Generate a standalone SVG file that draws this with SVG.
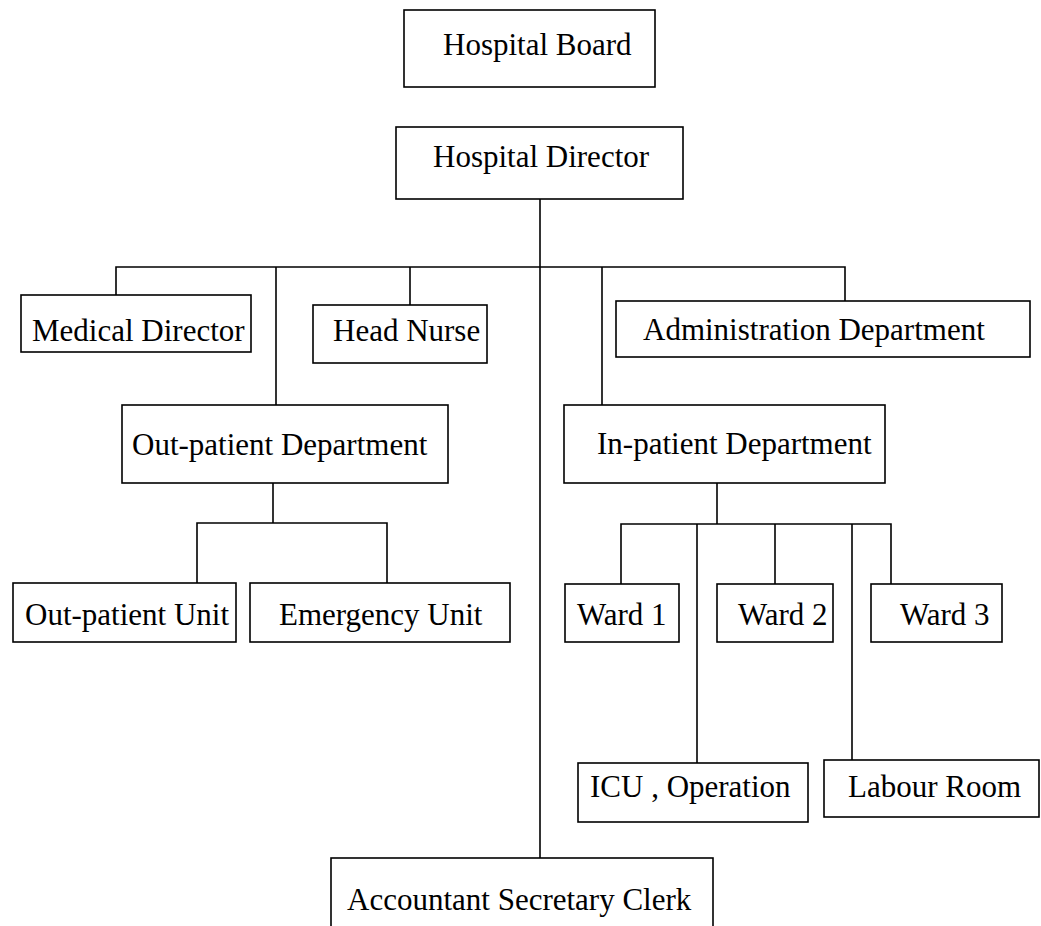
<svg xmlns="http://www.w3.org/2000/svg" width="1041" height="926" viewBox="0 0 1041 926">
  <style>
    .box { fill: #fff; stroke: #000; stroke-width: 1.6; }
    .lbl { font-family: "Liberation Serif", "Times New Roman", serif; font-size: 31px; fill: #000; }
    .wire { fill: none; stroke: #000; stroke-width: 1.6; }
  </style>
  <rect width="1041" height="926" fill="#fff"/>

  <!-- connectors -->
  <g id="connectors" class="wire">
    <!-- director trunk to accountant -->
    <path d="M540 199 V858"/>
    <!-- main distribution bar -->
    <path d="M116 295 V267 H845 V301"/>
    <path d="M276 267 V405"/>
    <path d="M410 267 V305"/>
    <path d="M602 267 V405"/>
    <!-- out-patient branch -->
    <path d="M273 483 V523"/>
    <path d="M197 583 V523 H387 V583"/>
    <!-- in-patient branch -->
    <path d="M717 483 V524"/>
    <path d="M621 584 V524 H891 V584"/>
    <path d="M697 524 V763"/>
    <path d="M775 524 V584"/>
    <path d="M852 524 V760"/>
  </g>

  <g id="hospital-board">
    <rect class="box" x="404" y="10" width="251" height="77"/>
    <text class="lbl" x="443" y="55">Hospital Board</text>
  </g>
  <g id="hospital-director">
    <rect class="box" x="396" y="127" width="287" height="72"/>
    <text class="lbl" x="433" y="167">Hospital Director</text>
  </g>
  <g id="medical-director">
    <rect class="box" x="21" y="295" width="230" height="57"/>
    <text class="lbl" x="32" y="341">Medical Director</text>
  </g>
  <g id="head-nurse">
    <rect class="box" x="313" y="305" width="174" height="58"/>
    <text class="lbl" x="333" y="341">Head Nurse</text>
  </g>
  <g id="administration-department">
    <rect class="box" x="616" y="301" width="414" height="56"/>
    <text class="lbl" x="643" y="340">Administration Department</text>
  </g>
  <g id="out-patient-department">
    <rect class="box" x="122" y="405" width="326" height="78"/>
    <text class="lbl" x="132" y="455">Out-patient Department</text>
  </g>
  <g id="in-patient-department">
    <rect class="box" x="564" y="405" width="321" height="78"/>
    <text class="lbl" x="597" y="454">In-patient Department</text>
  </g>
  <g id="out-patient-unit">
    <rect class="box" x="13" y="583" width="223" height="59"/>
    <text class="lbl" x="25" y="625">Out-patient Unit</text>
  </g>
  <g id="emergency-unit">
    <rect class="box" x="250" y="583" width="260" height="59"/>
    <text class="lbl" x="279" y="625">Emergency Unit</text>
  </g>
  <g id="ward-1">
    <rect class="box" x="565" y="584" width="114" height="58"/>
    <text class="lbl" x="577" y="625">Ward 1</text>
  </g>
  <g id="ward-2">
    <rect class="box" x="717" y="584" width="116" height="58"/>
    <text class="lbl" x="738" y="625">Ward 2</text>
  </g>
  <g id="ward-3">
    <rect class="box" x="871" y="584" width="131" height="58"/>
    <text class="lbl" x="900" y="625">Ward 3</text>
  </g>
  <g id="icu-operation">
    <rect class="box" x="578" y="763" width="230" height="59"/>
    <text class="lbl" x="590" y="797">ICU , Operation</text>
  </g>
  <g id="labour-room">
    <rect class="box" x="824" y="760" width="215" height="57"/>
    <text class="lbl" x="848" y="797">Labour Room</text>
  </g>
  <g id="accountant-secretary-clerk">
    <rect class="box" x="331" y="858" width="382" height="80"/>
    <text class="lbl" x="347" y="910">Accountant Secretary Clerk</text>
  </g>
</svg>
